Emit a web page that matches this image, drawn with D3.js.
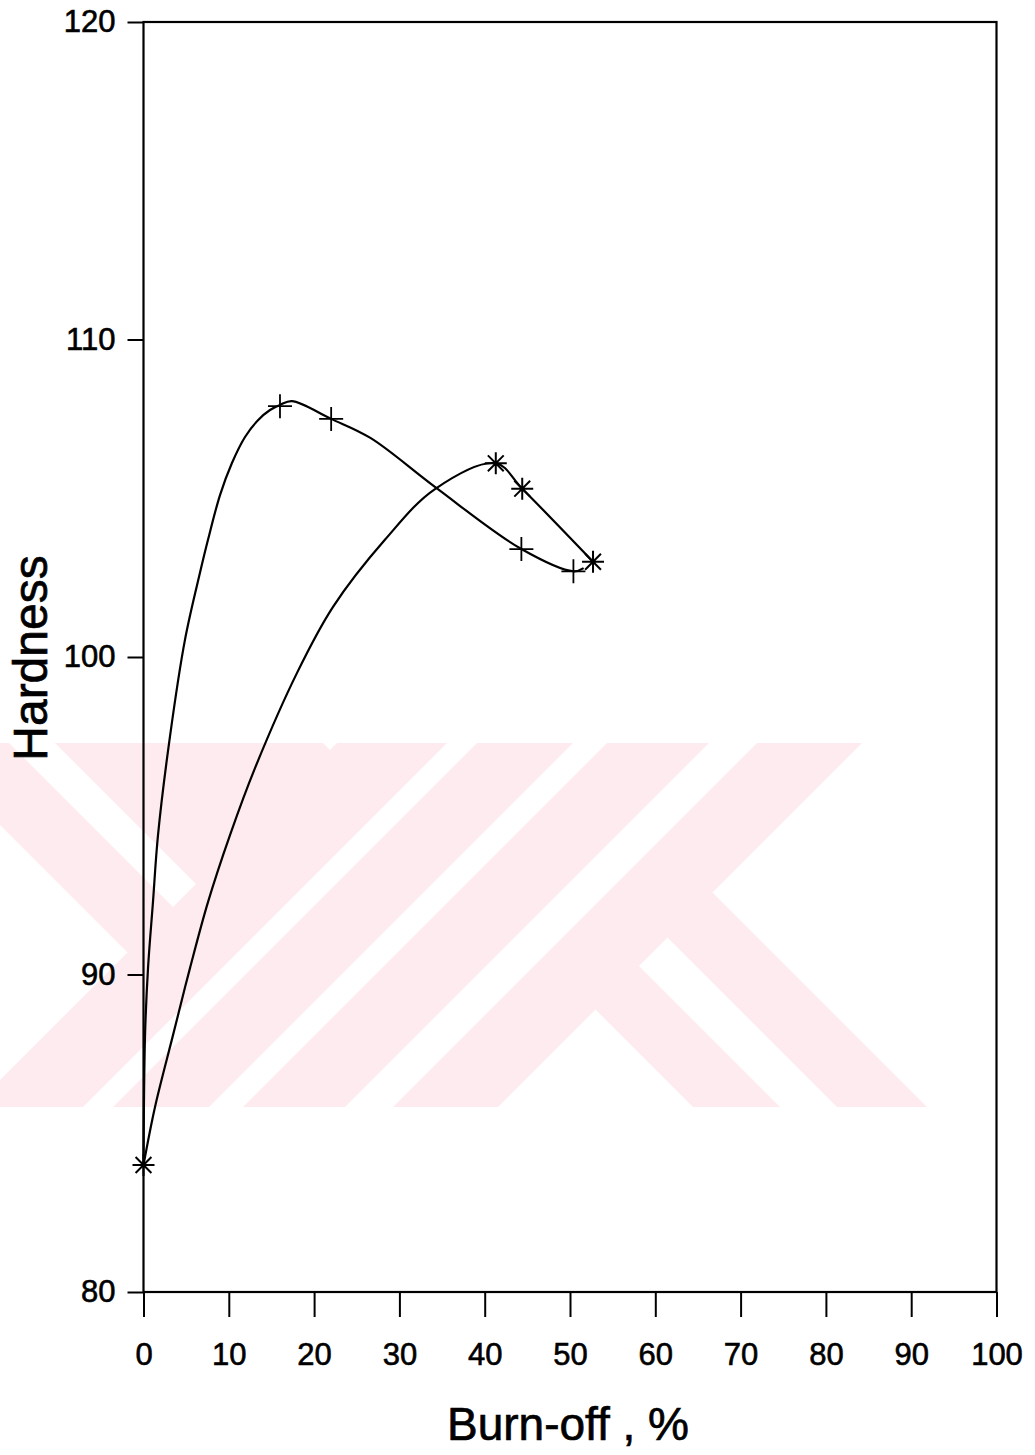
<!DOCTYPE html>
<html>
<head>
<meta charset="utf-8">
<script src="https://cdn.jsdelivr.net/npm/d3@7"></script>
<style>
  body { margin: 0; background: #fff; }
  svg text { font-family: Arial, "Liberation Sans", sans-serif; fill: #000; }
</style>
</head>
<body>
<div id="chart"></div>
<script>
const plusX = [0, 16, 22, 44.3, 50.4];
const plusY = [84, 107.9, 107.5, 103.4, 102.7];
const starX = [0, 41.3, 44.4, 52.7];
const starY = [84, 106.1, 105.3, 103.0];

// the drawn smooth curves
const plusCurveX = [0, 0.18, 0.53, 1.11, 1.70, 3.11, 4.86, 6.62, 7.56, 8.97, 10.37, 11.90, 13.42, 14.83, 16.0, 17.4, 22.0, 26.6, 34.2, 44.3, 50.4, 51.6];
const plusCurveY = [84, 88.09, 90.2, 92.28, 94.39, 97.51, 100.54, 102.65, 103.69, 105.10, 106.11, 106.93, 107.46, 107.78, 107.94, 108.06, 107.5, 106.9, 105.35, 103.4, 102.7, 102.8];
const starCurveX = [0, 1.35, 3.46, 5.45, 7.56, 10.14, 13.07, 18.0, 22.2, 28.3, 34.17, 41.3, 44.4, 52.7];
const starCurveY = [84, 85.83, 88.09, 90.2, 92.28, 94.39, 96.5, 99.5, 101.57, 103.69, 105.29, 106.1, 105.3, 103.0];

const xTicks = [0, 10, 20, 30, 40, 50, 60, 70, 80, 90, 100];
const yTicks = [80, 90, 100, 110, 120];

const W = 1035, H = 1455;
const svg = d3.select("#chart").append("svg")
  .attr("width", W).attr("height", H);

const x = d3.scaleLinear().domain([0, 100]).range([143.5, 996.5]);
const y = d3.scaleLinear().domain([80, 120]).range([1292, 22]);

// background watermark of the scanned page
const wm = { top: 743, bot: 1107, right: 935 };
svg.append("clipPath").attr("id", "wmclip")
  .append("rect").attr("x", 0).attr("y", wm.top)
  .attr("width", wm.right).attr("height", wm.bot - wm.top);
const wmg = svg.append("g").attr("clip-path", "url(#wmclip)")
  .attr("fill", "#fdebef");
// "/" stripes given by x+y range
function slash(u1, u2) {
  return [[u1 - wm.top, wm.top], [u2 - wm.top, wm.top], [u2 - wm.bot, wm.bot], [u1 - wm.bot, wm.bot]];
}
// "\" stripes given by x-y range, between x+y = u0 and u1
function back(v1, v2, u0, u1) {
  return [[(u0 + v1) / 2, (u0 - v1) / 2], [(u0 + v2) / 2, (u0 - v2) / 2],
          [(u1 + v2) / 2, (u1 - v2) / 2], [(u1 + v1) / 2, (u1 - v1) / 2]];
}
const shapes = [
  slash(1080, 1190), slash(1220, 1316), slash(1350, 1452), slash(1500, 1605),
  back(-414, -327, 1550, 2400), back(-270, -180, 1550, 2400),
  back(-825, -734, 0, 1100), back(-688, -420, 0, 1100)
];
wmg.selectAll("polygon").data(shapes).join("polygon")
  .attr("points", d => d.map(p => p.join(",")).join(" "));

// axes
const yAxis = svg.append("g")
  .attr("transform", `translate(${x(0)},0)`)
  .call(d3.axisLeft(y).tickValues(yTicks).tickSize(16).tickPadding(12));
const xAxis = svg.append("g")
  .attr("transform", `translate(0,${y(80)})`)
  .call(d3.axisBottom(x).tickValues(xTicks).tickSize(25).tickPadding(26));
[yAxis, xAxis].forEach(a => {
  a.select(".domain").remove();
  a.selectAll(".tick line").attr("stroke", "#000").attr("stroke-width", 2);
  a.selectAll(".tick text").attr("font-size", 31).attr("fill", "#000")
    .attr("stroke", "#000").attr("stroke-width", 0.6)
    .style("font-family", "Arial, 'Liberation Sans', sans-serif");
});

// frame
svg.append("rect")
  .attr("x", x(0)).attr("y", y(120))
  .attr("width", x(100) - x(0)).attr("height", y(80) - y(120))
  .attr("fill", "none").attr("stroke", "#000").attr("stroke-width", 2.2);

// curves
const line = d3.line()
  .x(d => x(d[0])).y(d => y(d[1]))
  .curve(d3.curveCatmullRom.alpha(0.5));
svg.append("path")
  .datum(plusCurveX.map((v, i) => [v, plusCurveY[i]]))
  .attr("d", line).attr("fill", "none").attr("stroke", "#000").attr("stroke-width", 2.2);
svg.append("path")
  .datum(starCurveX.map((v, i) => [v, starCurveY[i]]))
  .attr("d", line).attr("fill", "none").attr("stroke", "#000").attr("stroke-width", 2.2);

// markers
const plusSym = d3.symbol().type({ draw(ctx, size) {
  const r = Math.sqrt(size) / 2;
  ctx.moveTo(-r, 0); ctx.lineTo(r, 0); ctx.moveTo(0, -r); ctx.lineTo(0, r);
}}).size(24 * 24);
const starSym = d3.symbol().type({ draw(ctx, size) {
  const r = Math.sqrt(size) / 2, q = r * 0.72;
  ctx.moveTo(-r, 0); ctx.lineTo(r, 0); ctx.moveTo(0, -r); ctx.lineTo(0, r);
  ctx.moveTo(-q, -q); ctx.lineTo(q, q); ctx.moveTo(-q, q); ctx.lineTo(q, -q);
}}).size(22 * 22);

svg.append("g").selectAll("path")
  .data(plusX.map((v, i) => [v, plusY[i]]).slice(1))
  .join("path")
  .attr("transform", d => `translate(${x(d[0])},${y(d[1])})`)
  .attr("d", plusSym).attr("stroke", "#000").attr("stroke-width", 1.8).attr("fill", "none");
svg.append("g").selectAll("path")
  .data(starX.map((v, i) => [v, starY[i]]))
  .join("path")
  .attr("transform", d => `translate(${x(d[0])},${y(d[1])})`)
  .attr("d", starSym).attr("stroke", "#000").attr("stroke-width", 2).attr("fill", "none");

// axis titles
svg.append("text")
  .attr("x", 568).attr("y", 1440)
  .attr("text-anchor", "middle")
  .attr("font-size", 46)
  .attr("stroke", "#000").attr("stroke-width", 0.7)
  .text("Burn-off , %");
svg.append("text")
  .attr("transform", "translate(47,658) rotate(-90)")
  .attr("text-anchor", "middle")
  .attr("font-size", 48)
  .attr("stroke", "#000").attr("stroke-width", 0.7)
  .text("Hardness");
</script>
</body>
</html>
